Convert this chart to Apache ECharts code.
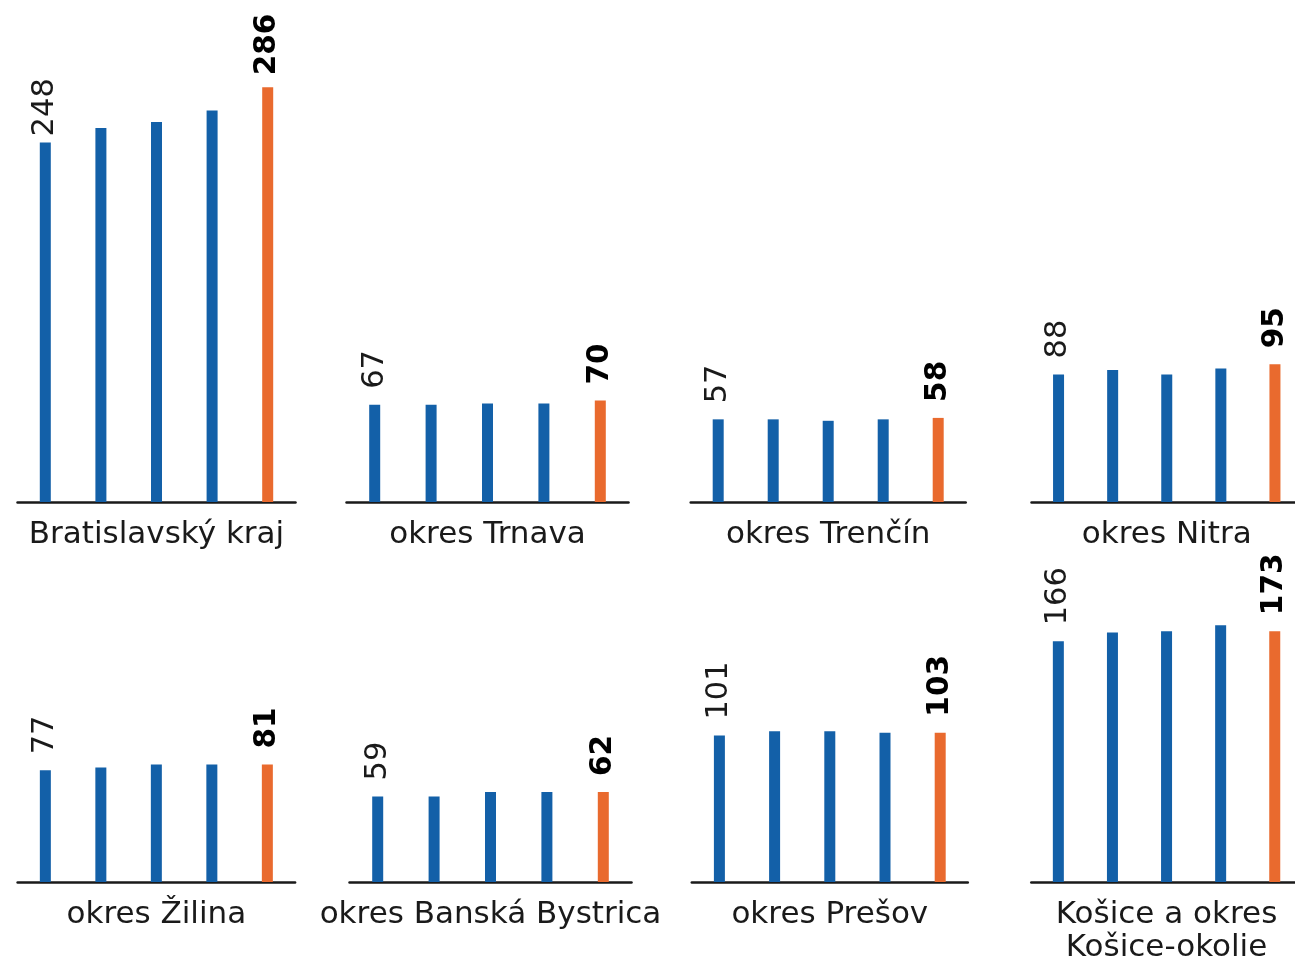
<!DOCTYPE html>
<html><head><meta charset="utf-8">
<script src="https://cdn.jsdelivr.net/npm/echarts@6/dist/echarts.min.js"></script>
<style>html,body{margin:0;padding:0;background:#fff;overflow:hidden;width:1295px;height:960px}#c{width:1310px;height:960px}</style>
</head><body><div id="c"></div>
<script>
// ---- data ----
const periods = ['1', '2', '3', '4', '5'];
const panelNames = ['Bratislavský kraj', 'okres Trnava', 'okres Trenčín', 'okres Nitra',
  'okres Žilina', 'okres Banská Bystrica', 'okres Prešov', 'Košice a okres\nKošice-okolie'];
const bratislavskyKraj = [248, 258, 262, 270, 286];
const okresTrnava = [67, 67, 68, 68, 70];
const okresTrencin = [57, 57, 56, 57, 58];
const okresNitra = [88, 91, 88, 92, 95];
const okresZilina = [77, 79, 81, 81, 81];
const okresBanskaBystrica = [59, 59, 62, 62, 62];
const okresPresov = [101, 104, 104, 103, 103];
const kosiceAOkolie = [166, 172, 173, 177, 173];
const yMax = 300;

// ---- layout / style ----
const panelValues = [bratislavskyKraj, okresTrnava, okresTrencin, okresNitra,
  okresZilina, okresBanskaBystrica, okresPresov, kosiceAOkolie];
const gridBoxes = [[17.5, 278], [346.5, 282], [690.7, 275], [1031.5, 270.5],
  [17.6, 277.5], [349.5, 282], [691.8, 276], [1031.3, 270.5]];
const rowTop = [67, 447];
const plotH = 435;
const BLUE = '#1360a8', ORANGE = '#e96a2e', INK = '#1a1a1a';
const FONT = 'DejaVu Sans';

const grid = [], xAxis = [], yAxis = [], series = [];
panelValues.forEach((vals, p) => {
  const row = p < 4 ? 0 : 1;
  grid.push({ left: gridBoxes[p][0], width: gridBoxes[p][1], top: rowTop[row], height: plotH,
    containLabel: false, outerBoundsMode: 'none' });
  xAxis.push({
    type: 'category', gridIndex: p, data: periods,
    axisLine: { lineStyle: { color: INK, width: 2.5 } },
    axisTick: { show: false }, axisLabel: { show: false },
    name: panelNames[p], nameLocation: 'middle', nameGap: 16,
    nameTextStyle: { fontFamily: FONT, fontSize: 31, color: INK, lineHeight: 33, verticalAlign: 'top' }
  });
  yAxis.push({ type: 'value', gridIndex: p, min: 0, max: yMax, show: false, splitLine: { show: false } });
  series.push({
    type: 'bar', xAxisIndex: p, yAxisIndex: p, barWidth: 11, silent: true,
    data: vals.map((v, i) => ({
      value: v,
      itemStyle: { color: i === vals.length - 1 ? ORANGE : BLUE },
      label: {
        show: i === 0 || i === vals.length - 1,
        position: 'top', rotate: 90, align: 'left', verticalAlign: 'middle',
        distance: p === 0 ? (i === 0 ? 6 : 12) : 16,
        fontFamily: FONT,
        fontSize: i === 0 ? 30.5 : 29.5,
        fontWeight: i === 0 ? 'normal' : 'bold',
        color: i === 0 ? INK : '#000'
      }
    }))
  });
});

const chart = echarts.init(document.getElementById('c'), null, { renderer: 'canvas' });
chart.setOption({ animation: false, backgroundColor: '#fff', grid, xAxis, yAxis, series });
</script></body></html>
